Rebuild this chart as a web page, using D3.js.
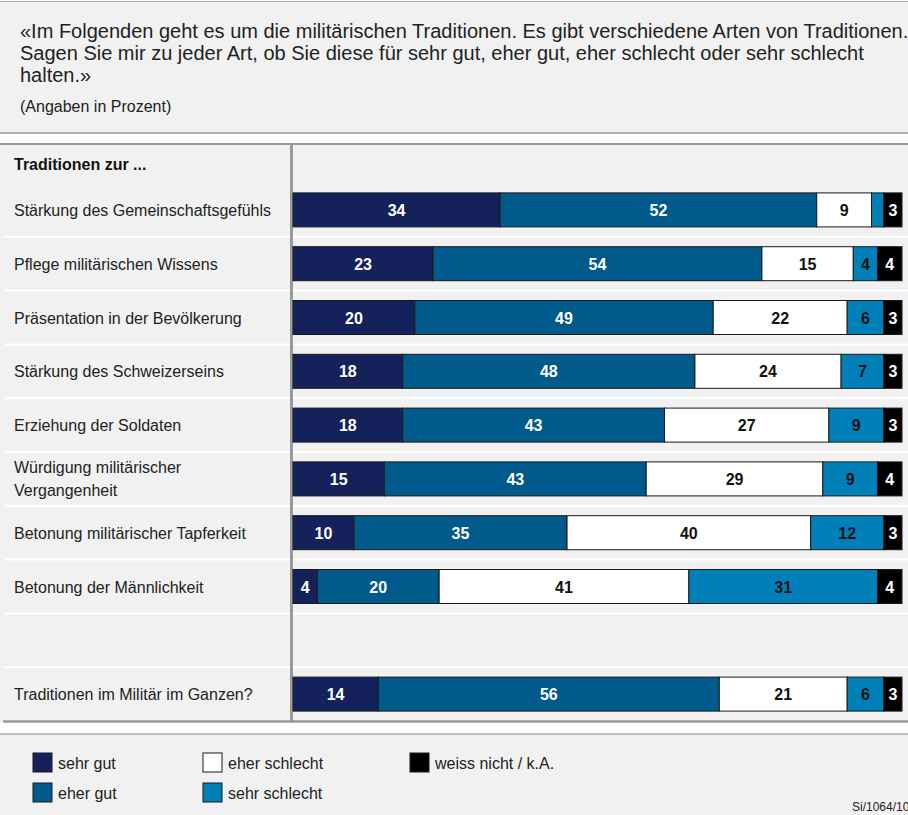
<!DOCTYPE html>
<html>
<head>
<meta charset="utf-8">
<script src="https://cdn.jsdelivr.net/npm/d3@7"></script>
<style>
  body { margin: 0; background: #fff; }
  svg { display: block; font-family: "Liberation Sans", Arial, sans-serif; }
</style>
</head>
<body>
<div id="chart"></div>
<script>
// question text + data
const questionLines = [
  '«Im Folgenden geht es um die militärischen Traditionen. Es gibt verschiedene Arten von Traditionen.',
  'Sagen Sie mir zu jeder Art, ob Sie diese für sehr gut, eher gut, eher schlecht oder sehr schlecht',
  'halten.»'
];
const categories = [
  ['Stärkung des Gemeinschaftsgefühls'],
  ['Pflege militärischen Wissens'],
  ['Präsentation in der Bevölkerung'],
  ['Stärkung des Schweizerseins'],
  ['Erziehung der Soldaten'],
  ['Würdigung militärischer', 'Vergangenheit'],
  ['Betonung militärischer Tapferkeit'],
  ['Betonung der Männlichkeit'],
  [],
  ['Traditionen im Militär im Ganzen?']
];
const seriesNames = ['sehr gut', 'eher gut', 'eher schlecht', 'sehr schlecht', 'weiss nicht / k.A.'];
const sehrGut      = [34, 23, 20, 18, 18, 15, 10, 4, null, 14];
const eherGut      = [52, 54, 49, 48, 43, 43, 35, 20, null, 56];
const eherSchlecht = [9, 15, 22, 24, 27, 29, 40, 41, null, 21];
const sehrSchlecht = [2, 4, 6, 7, 9, 9, 12, 31, null, 6];
const weissNicht   = [3, 4, 3, 3, 3, 4, 3, 4, null, 3];
const colors = ['#15215a', '#005a8c', '#ffffff', '#0080b8', '#000000'];
const textColors = ['#fff', '#fff', '#111', '#111', '#fff'];

const width = 908, height = 815;
const svg = d3.select('#chart').append('svg')
  .attr('width', width).attr('height', height);

// panels
svg.append('rect').attr('x', 0).attr('y', 2).attr('width', width).attr('height', 131).attr('fill', '#f1f1f1');
svg.append('line').attr('x1', 0).attr('x2', width).attr('y1', 1.5).attr('y2', 1.5).attr('stroke', '#aaa');
svg.append('line').attr('x1', 0).attr('x2', width).attr('y1', 133).attr('y2', 133).attr('stroke', '#999').attr('stroke-width', 1.5);

svg.append('rect').attr('x', 0).attr('y', 143).attr('width', width).attr('height', 579).attr('fill', '#f1f1f1');
svg.append('line').attr('x1', 0).attr('x2', width).attr('y1', 144).attr('y2', 144).attr('stroke', '#999').attr('stroke-width', 2);
svg.append('line').attr('x1', 3).attr('x2', width).attr('y1', 721.5).attr('y2', 721.5).attr('stroke', '#999').attr('stroke-width', 2.5);

svg.append('rect').attr('x', 0).attr('y', 734).attr('width', width).attr('height', height - 734).attr('fill', '#f1f1f1');
svg.append('line').attr('x1', 0).attr('x2', width).attr('y1', 734).attr('y2', 734).attr('stroke', '#aaa').attr('stroke-width', 1.5);

// header text
svg.append('g').selectAll('text').data(questionLines).join('text')
  .attr('x', 20).attr('y', (d, i) => 38 + i * 22)
  .attr('font-size', 20).attr('fill', '#222')
  .text(d => d);
svg.append('text').attr('x', 20).attr('y', 112).attr('font-size', 16).attr('fill', '#222')
  .text('(Angaben in Prozent)');

// scales
const y = d3.scaleBand().domain(d3.range(categories.length)).range([183, 721]);
const x = d3.scaleLinear().domain([0, 100]).range([293, 902]);
const barH = 34;

// row separators
svg.append('g').selectAll('line').data(d3.range(1, categories.length)).join('line')
  .attr('x1', 5).attr('x2', width)
  .attr('y1', d => y(d)).attr('y2', d => y(d))
  .attr('stroke', '#fff').attr('stroke-width', 2);

// vertical divider
svg.append('line').attr('x1', 291.5).attr('x2', 291.5).attr('y1', 144).attr('y2', 721)
  .attr('stroke', '#999').attr('stroke-width', 3);

svg.append('text').attr('x', 14).attr('y', 170).attr('font-size', 16).attr('font-weight', 'bold')
  .attr('fill', '#111').text('Traditionen zur ...');

// row labels
const labels = svg.append('g').selectAll('text').data(categories).join('text')
  .attr('font-size', 16).attr('fill', '#222');
labels.each(function (d, i) {
  const cy = y(i) + y.bandwidth() / 2;
  const t = d3.select(this);
  d.forEach((line, j) => {
    t.append('tspan').attr('x', 14)
      .attr('y', cy + 6 + (j - (d.length - 1) / 2) * 23)
      .text(line);
  });
});

// stacked segments
const rows = d3.range(categories.length).filter(i => sehrGut[i] != null).map(i => ({
  i, values: [sehrGut[i], eherGut[i], eherSchlecht[i], sehrSchlecht[i], weissNicht[i]]
}));
const segs = [];
rows.forEach(r => {
  let acc = 0;
  r.values.forEach((v, k) => {
    segs.push({ row: r.i, k, v, x0: acc, x1: acc + v });
    acc += v;
  });
});

const bars = svg.append('g');
bars.selectAll('rect').data(segs).join('rect')
  .attr('x', d => x(d.x0))
  .attr('y', d => y(d.row) + y.bandwidth() / 2 - barH / 2)
  .attr('width', d => x(d.x1) - x(d.x0))
  .attr('height', barH)
  .attr('fill', d => colors[d.k])
  .attr('stroke', '#1a1a1a').attr('stroke-width', 1);

bars.selectAll('text').data(segs.filter(d => d.v >= 3)).join('text')
  .attr('x', d => (x(d.x0) + x(d.x1)) / 2)
  .attr('y', d => y(d.row) + y.bandwidth() / 2 + 6)
  .attr('text-anchor', 'middle')
  .attr('font-size', 16).attr('font-weight', 'bold')
  .attr('fill', d => textColors[d.k])
  .text(d => d.v);

// legend
const legendPos = [[33, 753], [33, 783], [203, 753], [203, 783], [410, 753]];
const legend = svg.append('g').selectAll('g').data(seriesNames).join('g')
  .attr('transform', (d, i) => `translate(${legendPos[i][0]},${legendPos[i][1]})`);
legend.append('rect').attr('width', 19).attr('height', 19)
  .attr('fill', (d, i) => colors[i]).attr('stroke', '#1a1a1a');
legend.append('text').attr('x', 25).attr('y', 15.5).attr('font-size', 16).attr('fill', '#222')
  .text(d => d);

svg.append('text').attr('x', 852).attr('y', 811).attr('font-size', 12).attr('fill', '#222')
  .text('Si/1064/10');
</script>
</body>
</html>
